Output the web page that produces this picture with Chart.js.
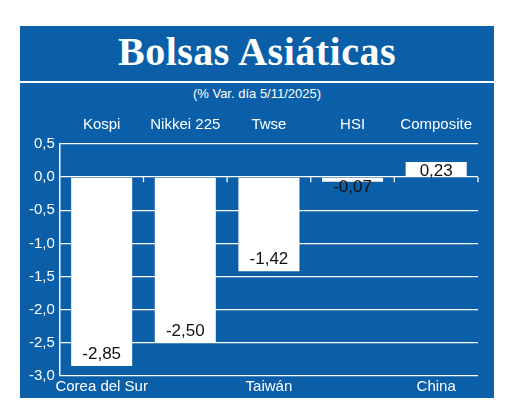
<!DOCTYPE html>
<html lang="es">
<head>
<meta charset="UTF-8">
<title>Bolsas Asiáticas</title>
<script src="https://cdn.jsdelivr.net/npm/chart.js"></script>
<style>
    body { margin: 0; background: #fff; width: 520px; height: 417px; overflow: hidden; }
    .panel {
        position: absolute; left: 20px; top: 26px; width: 474px; height: 372px;
        background: #0b5fa8;
    }
    .title {
        position: absolute; left: 0; top: 2px; width: 100%; text-align: center;
        color: #fff; font: bold 40px "Liberation Serif", serif; letter-spacing: 0.5px;
    }
    .rule { position: absolute; left: 0; top: 55px; width: 100%; height: 2px; background: #fff; }
    .subtitle {
        position: absolute; left: 0; top: 60px; width: 100%; text-align: center;
        color: #fff; font: 13px "Liberation Sans Narrow", "Liberation Sans", sans-serif;
    }
    #chart { position: absolute; left: 0; top: 80px; }
</style>
</head>
<body>
<div class="panel">
    <div class="title">Bolsas Asiáticas</div>
    <div class="rule"></div>
    <div class="subtitle">(% Var. día  5/11/2025)</div>
    <canvas id="chart" width="474" height="292"></canvas>
</div>
<script>
    // Data
    const countries = ['Corea del Sur', 'Japón', 'Taiwán', 'Hong Kong', 'China'];
    const indices = ['Kospi', 'Nikkei 225', 'Twse', 'HSI', 'Composite'];
    const changes = [-2.85, -2.50, -1.42, -0.07, 0.23];

    const fmt = (v, d) => v.toFixed(d).replace('.', ',');
    const labelFont = '15px "Liberation Sans Narrow", "Liberation Sans", sans-serif';

    // value labels + small ticks on the zero line
    const extras = {
        id: 'extras',
        afterDatasetsDraw(chart) {
            const ctx = chart.ctx;
            const y = chart.scales.y;
            const x = chart.scales.x;
            const zero = y.getPixelForValue(0);
            ctx.save();
            ctx.strokeStyle = '#fff';
            ctx.lineWidth = 1.3;
            for (let i = 1; i < countries.length; i++) {
                const px = (x.getPixelForValue(i - 1) + x.getPixelForValue(i)) / 2;
                ctx.beginPath(); ctx.moveTo(px, zero); ctx.lineTo(px, zero + 5); ctx.stroke();
            }
            ctx.beginPath(); ctx.moveTo(chart.chartArea.right, zero); ctx.lineTo(chart.chartArea.right, zero + 5); ctx.stroke();
            ctx.fillStyle = '#111';
            ctx.font = '17px "Liberation Sans", sans-serif';
            ctx.textAlign = 'center';
            ctx.textBaseline = 'middle';
            chart.getDatasetMeta(0).data.forEach((bar, i) => {
                const v = changes[i];
                let ty;
                if (v >= 0) ty = bar.y + 9;
                else if (bar.y - zero < 25) ty = bar.y + 6;
                else ty = bar.y - 12;
                ctx.fillText(fmt(v, 2), bar.x, ty);
            });
            ctx.restore();
        }
    };

    new Chart(document.getElementById('chart'), {
        type: 'bar',
        data: {
            labels: countries,
            datasets: [{ data: changes, backgroundColor: '#fff', borderWidth: 0,
                         barPercentage: 0.73, categoryPercentage: 1 }]
        },
        options: {
            responsive: false,
            animation: false,
            layout: { padding: { left: 4, right: 16, top: 0, bottom: 0 } },
            plugins: { legend: { display: false }, tooltip: { enabled: false } },
            scales: {
                x: {
                    position: 'bottom',
                    grid: { display: false, drawTicks: false },
                    border: { display: false },
                    ticks: { color: '#fff', font: { family: '"Liberation Sans Narrow", "Liberation Sans", sans-serif', size: 15 }, padding: 2, maxRotation: 0 }
                },
                x2: {
                    position: 'top',
                    labels: indices,
                    grid: { display: false, drawTicks: false },
                    border: { display: false },
                    ticks: { color: '#fff', font: { family: '"Liberation Sans Narrow", "Liberation Sans", sans-serif', size: 15 }, padding: 10, maxRotation: 0 }
                },
                y: {
                    min: -3, max: 0.5,
                    ticks: { stepSize: 0.5, color: '#fff', padding: 5,
                             font: { family: '"Liberation Sans", sans-serif', size: 15 },
                             callback: v => fmt(v, 1) },
                    grid: { color: '#fff', lineWidth: 1.3, drawTicks: false },
                    border: { color: '#fff', width: 1.5 }
                }
            }
        },
        plugins: [extras]
    });
</script>
</body>
</html>
